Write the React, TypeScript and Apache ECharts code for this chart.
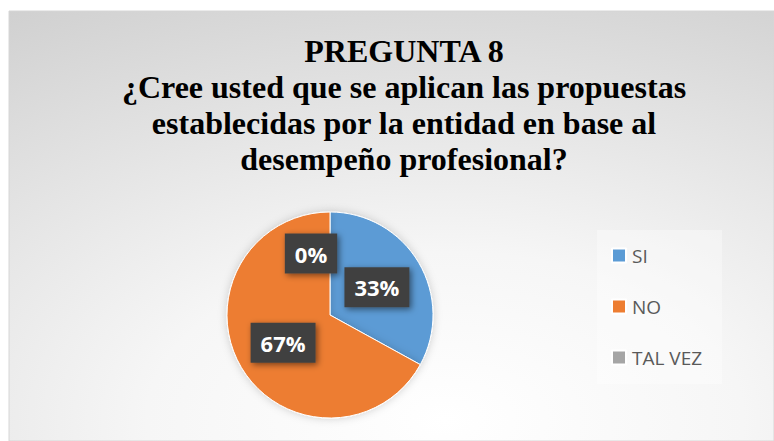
import React, { useEffect, useRef } from "react";
import * as echarts from "echarts";

const titleLines = [
  "PREGUNTA 8",
  "¿Cree usted que se aplican las propuestas",
  "establecidas por la entidad en base al",
  "desempeño profesional?",
];
const categories = ["SI", "NO", "TAL VEZ"];
const values = [33, 67, 0];
const percentLabels = ["33%", "67%", "0%"];
const colors = ["#5B9BD5", "#ED7D31", "#A5A5A5"];

export default function App() {
  const ref = useRef<HTMLDivElement>(null);
  useEffect(() => {
    if (!ref.current) return;
    const chart = echarts.init(ref.current, undefined, { renderer: "svg" });
    const data = categories.map((name, i) => {
      const item: any = { name, value: values[i], itemStyle: { color: colors[i] } };
      if (name === "TAL VEZ") {
        item.label = { offset: [-19, -7] };
      }
      return item;
    });
    chart.setOption({
      animation: false,
      backgroundColor: "#ffffff",
      graphic: [
        {
          type: "rect",
          z: -10,
          shape: { x: 9, y: 11, width: 765, height: 430 },
          style: {
            fill: new echarts.graphic.RadialGradient(0.57, 0.95, 1.3, [
              { offset: 0, color: "#ffffff" },
              { offset: 0.3, color: "#f6f6f6" },
              { offset: 1, color: "#c6c6c6" },
            ]),
            stroke: "#d6d6d6",
            lineWidth: 1,
          },
          silent: true,
        },
        {
          type: "rect",
          z: -5,
          shape: { x: 597, y: 230, width: 125, height: 154 },
          style: { fill: "rgba(255,255,255,0.35)" },
          silent: true,
        },
      ],
      title: {
        text: titleLines.join("\n"),
        left: 399,
        top: 28,
        textAlign: "center",
        textStyle: {
          fontFamily: "'Liberation Serif', 'Times New Roman', serif",
          fontWeight: "bold",
          fontSize: 32,
          lineHeight: 36,
          color: "#000000",
        },
      },
      legend: {
        orient: "vertical",
        left: 611,
        top: 246,
        padding: 0,
        itemGap: 32,
        itemWidth: 14,
        itemHeight: 14,
        icon: "rect",
        data: categories,
        textStyle: {
          fontFamily: "'Open Sans', sans-serif",
          fontSize: 19,
          color: "#595959",
          padding: [0, 0, 0, 1],
        },
      },
      series: [
        {
          type: "pie",
          center: [330, 315],
          radius: 103,
          startAngle: 90,
          clockwise: true,
          avoidLabelOverlap: false,
          stillShowZeroSum: true,
          minShowLabelAngle: 0,
          data,
          itemStyle: {
            borderColor: "#ffffff",
            borderWidth: 1,
            shadowBlur: 8,
            shadowColor: "rgba(0,0,0,0.18)",
          },
          label: {
            show: true,
            position: "inside",
            formatter: (p: any) => percentLabels[p.dataIndex],
            color: "#ffffff",
            fontFamily: "'Open Sans', sans-serif",
            fontWeight: "bold",
            fontSize: 22,
            backgroundColor: "#404040",
            padding: [9, 10],
            shadowColor: "rgba(0,0,0,0.5)",
            shadowBlur: 6,
            shadowOffsetX: 2,
            shadowOffsetY: 2,
          },
          labelLine: { show: false },
          emphasis: { disabled: true },
        },
      ],
    });
    return () => chart.dispose();
  }, []);
  return (
    <div
      ref={ref}
      style={{ position: "fixed", left: 0, top: 0, width: 774, height: 441 }}
    />
  );
}
